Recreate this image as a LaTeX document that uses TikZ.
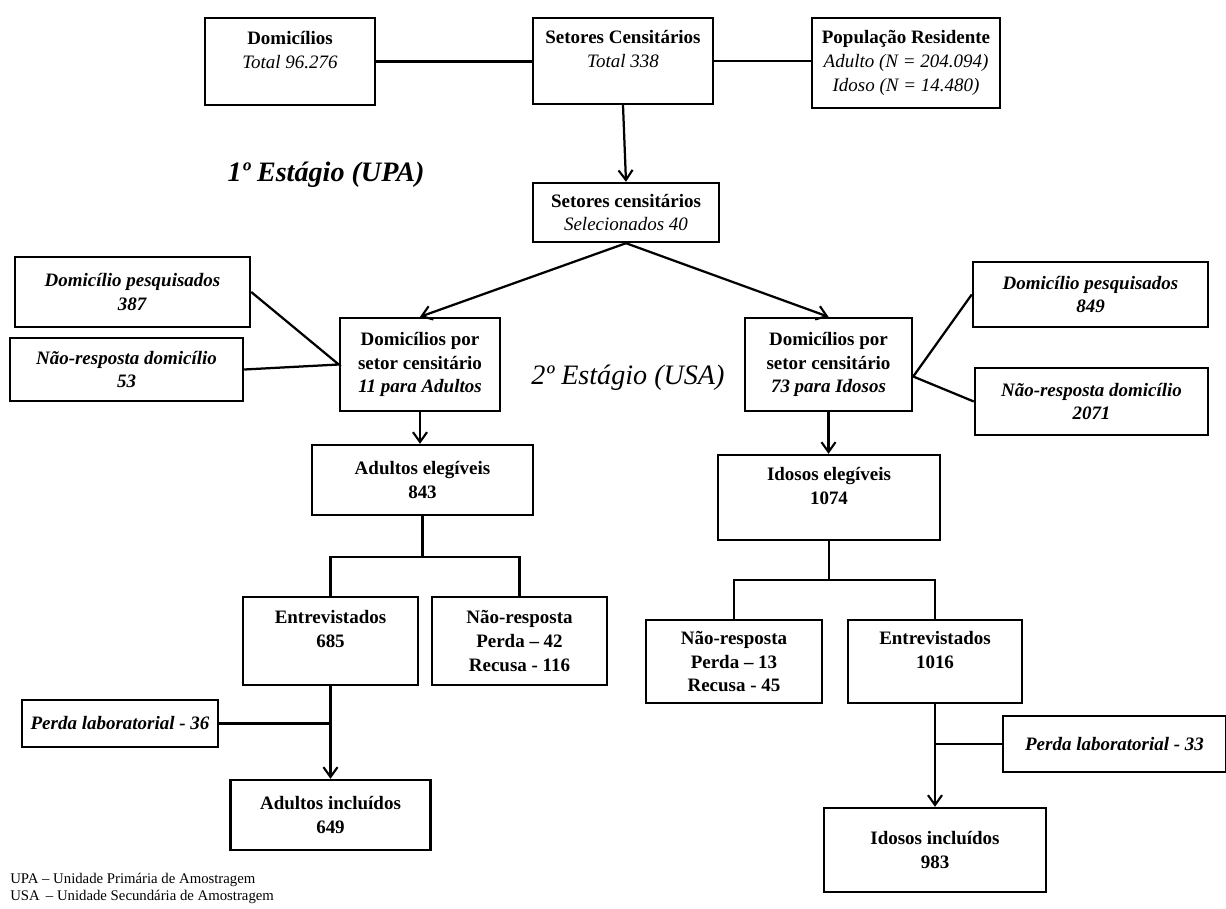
\documentclass[tikz,border=0pt]{standalone}
\usepackage{fontspec}
\setmainfont{Liberation Serif}
\usetikzlibrary{arrows.meta}

\begin{document}
\begin{tikzpicture}[x=0.025cm, y=-0.025cm,
    >={Straight Barb[length=7pt, width=10pt, line width=1.5pt]},
    caixa/.style={draw, rectangle, line width=1.7pt, align=center, inner sep=2pt,
        font=\fontsize{13.5}{17}\selectfont},
    ligacao/.style={line width=1.6pt},
    estagio/.style={font=\fontsize{20}{24}\selectfont\itshape},
    nota/.style={anchor=west, inner sep=0pt, font=\fontsize{10.5}{12.5}\selectfont}
]
    \useasboundingbox (0,0) rectangle (1226,909);

    % 第一行
    \node[caixa, minimum width=4.25cm, minimum height=2.175cm] (dom) at (290, 61.5)
        {\textbf{Domicílios}\\\textit{Total 96.276}\\~};
    \node[caixa, minimum width=4.5cm, minimum height=2.15cm] (setc) at (623, 61)
        {\textbf{Setores Censitários}\\\textit{Total 338}\\~};
    \node[caixa, minimum width=4.7cm, minimum height=2.25cm] (pop) at (906, 63)
        {\textbf{População Residente}\\\textit{Adulto (N = 204.094)}\\\textit{Idoso (N = 14.480)}};

    \draw[ligacao] (dom.east) -- (dom.east -| setc.west);
    \draw[ligacao] (setc.east) -- (setc.east -| pop.west);

    % 第一阶段
    \node[estagio, font=\fontsize{20}{24}\selectfont\bfseries\itshape] (est1) at (326, 175)
        {1º Estágio (UPA)};
    \node[caixa, minimum width=4.65cm, minimum height=1.475cm] (selec) at (626, 212.5)
        {\textbf{Setores censitários}\\\textit{Selecionados 40}};
    \draw[ligacao, ->] (setc.south) -- (selec.north);

    % 第二阶段
    \node[estagio] (est2) at (628, 378) {2º Estágio (USA)};
    \node[caixa, minimum width=4cm, minimum height=2.325cm] (lmid) at (420, 364.5)
        {\textbf{Domicílios por}\\\textbf{setor censitário}\\\textbf{\textit{11 para Adultos}}};
    \node[caixa, minimum width=4.175cm, minimum height=2.325cm] (rmid) at (828.5, 364.5)
        {\textbf{Domicílios por}\\\textbf{setor censitário}\\\textbf{\textit{73 para Idosos}}};
    \draw[ligacao, ->] (selec.south) -- (lmid.north);
    \draw[ligacao, ->] (selec.south) -- (rmid.north);

    \node[caixa, minimum width=5.875cm, minimum height=1.75cm] (lpesq) at (132.5, 292)
        {\textbf{\textit{Domicílio pesquisados}}\\\textbf{\textit{387}}};
    \node[caixa, minimum width=5.825cm, minimum height=1.575cm] (lnao) at (126.5, 369.5)
        {\textbf{\textit{Não-resposta domicílio}}\\\textbf{\textit{53}}};
    \node[caixa, minimum width=5.875cm, minimum height=1.625cm] (rpesq) at (1090.5, 294.5)
        {\textbf{\textit{Domicílio pesquisados}}\\\textbf{\textit{849}}};
    \node[caixa, minimum width=5.825cm, minimum height=1.675cm] (rnao) at (1091.5, 401.5)
        {\textbf{\textit{Não-resposta domicílio}}\\\textbf{\textit{2071}}};
    \draw[ligacao] (lpesq.east) -- (lmid.west) -- (lnao.east);
    \draw[ligacao] (rpesq.west) -- ([yshift=-0.3cm]rmid.east) -- (rnao.west);

    % 成人
    \node[caixa, minimum width=5.525cm, minimum height=1.75cm] (adel) at (422.5, 480)
        {\textbf{Adultos elegíveis}\\\textbf{843}};
    \draw[ligacao, ->] (lmid.south) -- (lmid.south |- adel.north);
    \coordinate (lbar) at (422.5, 557);
    \node[caixa, minimum width=4.375cm, minimum height=2.2cm] (entL) at (330.5, 641)
        {\textbf{Entrevistados}\\\textbf{685}\\~};
    \node[caixa, minimum width=4.375cm, minimum height=2.2cm] (nrL) at (519.5, 641)
        {\textbf{Não-resposta}\\\textbf{Perda – 42}\\\textbf{Recusa - 116}};
    \draw[ligacao] (adel.south) -- (lbar);
    \draw[ligacao] (entL.north) |- (lbar) -| (nrL.north);

    \node[caixa, minimum width=4.9cm, minimum height=1.175cm] (p36) at (120, 723.5)
        {\textbf{\textit{Perda laboratorial - 36}}};
    \node[caixa, minimum width=5cm, minimum height=1.75cm] (adinc) at (330.5, 815)
        {\textbf{Adultos incluídos}\\\textbf{649}};
    \draw[ligacao, ->] (entL.south) -- (adinc.north);
    \draw[ligacao] (p36.east) -- (p36.east -| entL.south);

    % 老人
    \node[caixa, minimum width=5.55cm, minimum height=2.125cm] (idel) at (829, 497.5)
        {\textbf{Idosos elegíveis}\\\textbf{1074}\\~};
    \draw[ligacao, ->] (rmid.south) -- (rmid.south |- idel.north);
    \coordinate (rbar) at (829, 580);
    \node[caixa, minimum width=4.4cm, minimum height=2.075cm] (nrR) at (734, 661.5)
        {\textbf{Não-resposta}\\\textbf{Perda – 13}\\\textbf{Recusa - 45}};
    \node[caixa, minimum width=4.35cm, minimum height=2.075cm] (entR) at (935, 661.5)
        {\textbf{Entrevistados}\\\textbf{1016}\\~};
    \draw[ligacao] (idel.south) -- (rbar);
    \draw[ligacao] (nrR.north) |- (rbar) -| (entR.north);

    \node[caixa, minimum width=5.575cm, minimum height=1.4cm] (p33) at (1114.5, 744)
        {\textbf{\textit{Perda laboratorial - 33}}};
    \node[caixa, minimum width=5.55cm, minimum height=2.1cm] (idinc) at (935, 850)
        {\textbf{Idosos incluídos}\\\textbf{983}};
    \draw[ligacao, ->] (entR.south) -- (idinc.north);
    \draw[ligacao] (p33.west) -- (p33.west -| entR.south);

    % 注释
    \node[nota] (upa) at (10, 880) {UPA – Unidade Primária de Amostragem};
    \node[nota] (usa) at (10, 897) {USA \,– Unidade Secundária de Amostragem};

\end{tikzpicture}
\end{document}
